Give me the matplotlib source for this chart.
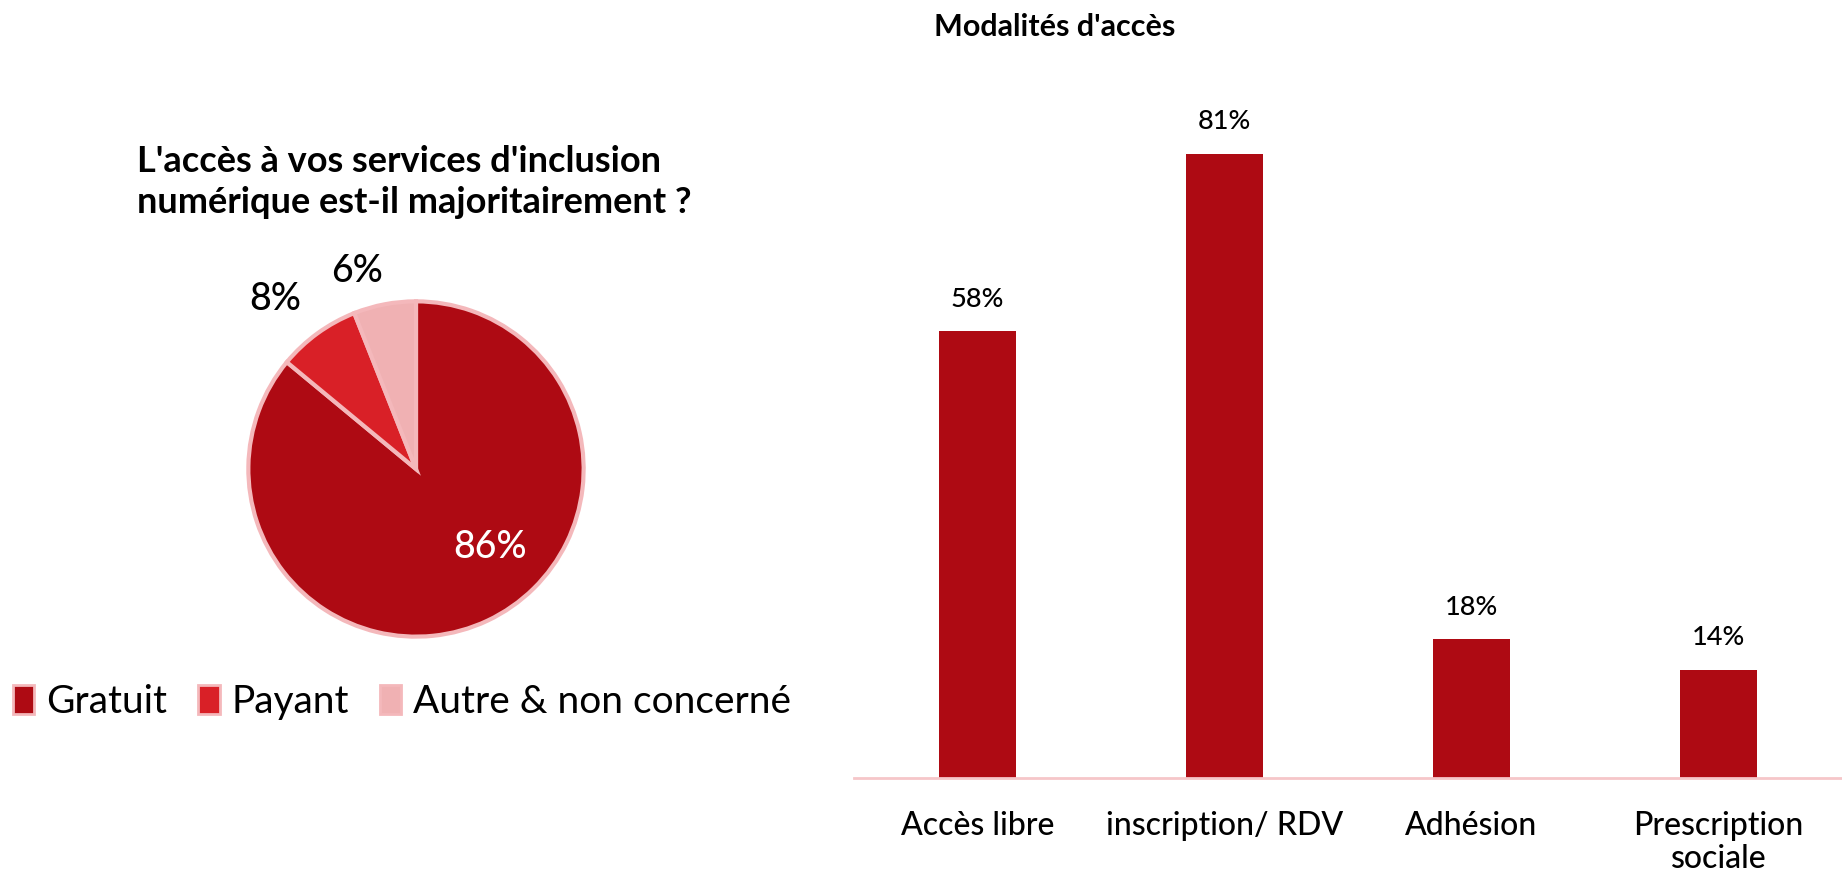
import matplotlib.pyplot as plt
from matplotlib.patches import Patch

plt.rcParams['font.family'] = ['Lato', 'DejaVu Sans']

# pie data
pie_labels = ["Gratuit", "Payant", "Autre & non concerné"]
pie_values = [86, 8, 6]
pie_colors = ["#AE0A13", "#D92027", "#F0B1B3"]

# bar data
bar_cats = ["Accès libre", "inscription/ RDV", "Adhésion", "Prescription\nsociale"]
bar_values = [58, 81, 18, 14]

W, H = 1842, 872
fig = plt.figure(figsize=(W / 100, H / 100), dpi=100)

# --- pie ---
cx, cy, r = 416, 469, 171
ax1 = fig.add_axes([(cx - r) / W, (H - cy - r) / H, 2 * r / W, 2 * r / H])
wedges, texts = ax1.pie(pie_values, colors=pie_colors, startangle=90, counterclock=False,
                        labels=[f"{v}%" for v in pie_values], labeldistance=1.2,
                        wedgeprops=dict(edgecolor="#F4B8BB", linewidth=3))
label_pos = [(0.44, -0.47), (-0.84, 1.01), (-0.35, 1.18)]
for t, p, c in zip(texts, label_pos, ["white", "black", "black"]):
    t.set_position(p)
    t.set_ha("center")
    t.set_va("center")
    t.set_fontsize(27)
    t.set_fontweight("medium")
    t.set_color(c)
ax1.set_xlim(-1.02, 1.02)
ax1.set_ylim(-1.02, 1.02)

fig.text(137 / W, 1 - 182 / H, "L'accès à vos services d'inclusion\nnumérique est-il majoritairement ?",
         ha="left", va="center", fontsize=26, fontweight="bold", linespacing=1.3)

handles = [Patch(facecolor=c, edgecolor="#F4B8BB", linewidth=2) for c in pie_colors]
fig.legend(handles, pie_labels, loc="center left", bbox_to_anchor=(13 / W, 1 - 702 / H),
           ncol=3, frameon=False, fontsize=28, handlelength=0.55, handleheight=0.8,
           handletextpad=0.3, columnspacing=0.8, borderpad=0, borderaxespad=0)

# --- bars ---
ax2 = fig.add_axes([854 / W, (H - 778) / H, (W - 854) / W, 770 / H])
x = range(len(bar_cats))
bars = ax2.bar(x, bar_values, width=0.315, color="#AE0A13")
for b, v in zip(bars, bar_values):
    ax2.text(b.get_x() + b.get_width() / 2, v + 4.2, f"{v}%", ha="center", va="center",
             fontsize=19.5, fontweight="medium")
ax2.set_xlim(-0.5, 3.5)
ax2.set_ylim(0, 100)
ax2.set_xticks(list(x))
ax2.set_xticklabels(bar_cats, fontsize=23, linespacing=1.12, fontweight="medium")
ax2.tick_params(axis="x", length=0, pad=24)
ax2.set_yticks([])
for s in ["top", "left", "right"]:
    ax2.spines[s].set_visible(False)
ax2.spines["bottom"].set_color("#F6C6C9")
ax2.spines["bottom"].set_linewidth(2)

fig.text(1055 / W, 1 - 27 / H, "Modalités d'accès", ha="center", va="center", fontsize=22,
         fontweight="bold")

fig.savefig("out.png", dpi=100)
